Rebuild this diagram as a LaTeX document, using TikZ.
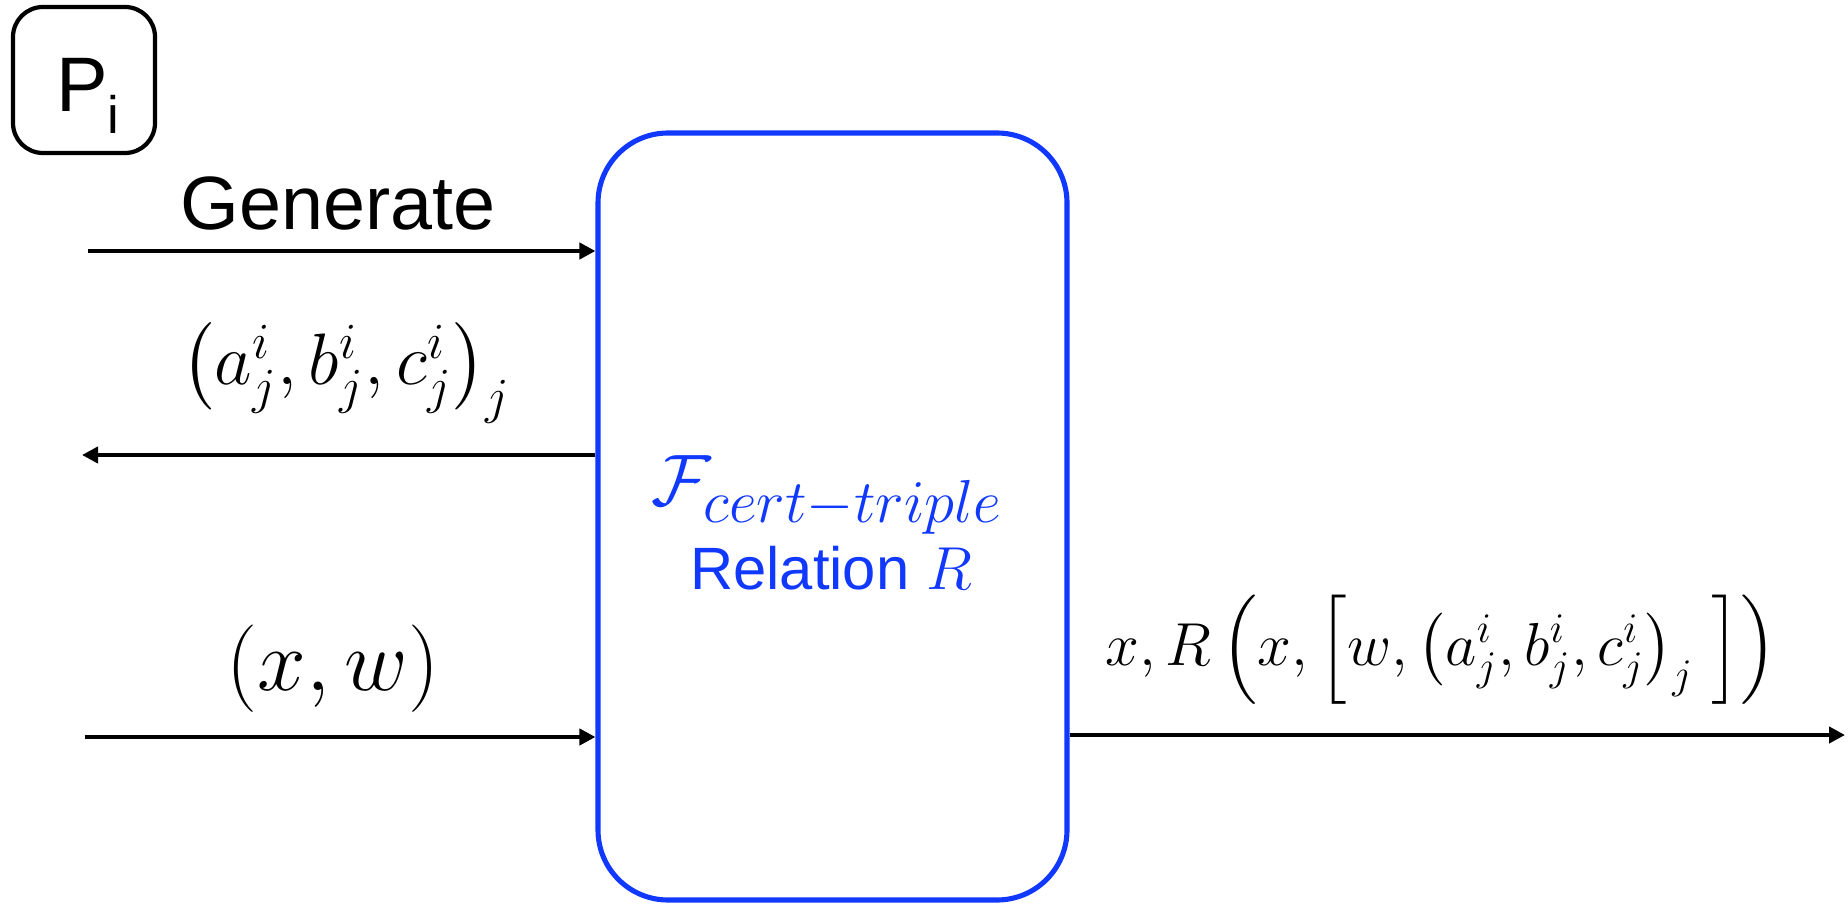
\documentclass[tikz,border=0pt]{standalone}
\usepackage{amsmath}
\usepackage{fontspec}
\setmainfont{Liberation Sans}
\usetikzlibrary{arrows.meta}
\definecolor{funcblue}{RGB}{16,56,255}

\begin{document}
\begin{tikzpicture}[every node/.style={inner sep=0pt},
  freccia/.style={line width=1.2pt, -{Triangle[length=1.6mm, width=1.6mm]}},
  etichetta/.style={anchor=base, font=\fontsize{24}{28}\selectfont}]
  \useasboundingbox (0,0) rectangle (18.48,9.06);

  % Parte
  \node[draw, line width=1.2pt, rounded corners=0.3cm, minimum width=1.42cm, minimum height=1.46cm] (party) at (0.84,8.26) {};
  \node[anchor=base] (pname) at (0.88,7.94) {\fontsize{22}{26}\selectfont P\raisebox{-6pt}{\fontsize{15}{18}\selectfont i}};

  % Funzionalita
  \node[draw=funcblue, line width=1.45pt, rounded corners=0.7cm, minimum width=4.69cm, minimum height=7.67cm] (func) at (8.325,3.895) {};
  \node[anchor=base, text=funcblue] (fname) at (8.27,4.01)
    {\fontsize{22}{26}\selectfont $\mathcal{F}_{\mbox{\fontsize{17}{20}\selectfont$cert{-}triple$}}$};
  \node[anchor=base, text=funcblue] (rel) at (8.31,3.17) {\fontsize{17}{20}\selectfont Relation $R$};

  % Frecce
  \coordinate (gen) at (0.88,6.55);
  \coordinate (back) at (0.82,4.51);
  \coordinate (inp) at (0.85,1.69);
  \coordinate (out) at (18.45,1.71);
  \draw[freccia] (gen) -- (gen -| func.west);
  \draw[freccia] (back -| func.west) -- (back);
  \draw[freccia] (inp) -- (inp -| func.west);
  \draw[freccia] (func.east |- out) -- (out);

  % Etichette
  \node[etichetta] (genlab) at (3.38,6.76) {\fontsize{21.5}{26}\selectfont Generate};
  \node[etichetta, font=\fontsize{22}{26}\selectfont] (triple) at (3.46,5.21)
    {$\bigl(a_j^i, b_j^i, c_j^i\bigr)_j$};
  \node[etichetta] (xw) at (3.33,2.16) {$(x, w)$};
  \node[etichetta, font=\fontsize{18.5}{22}\selectfont] (outlab) at (14.41,2.41)
    {$x, R\,\Bigl(x, \Bigl[w, \bigl(a_j^i, b_j^i, c_j^i\bigr)_j\ \Bigr]\Bigr)$};
\end{tikzpicture}
\end{document}
